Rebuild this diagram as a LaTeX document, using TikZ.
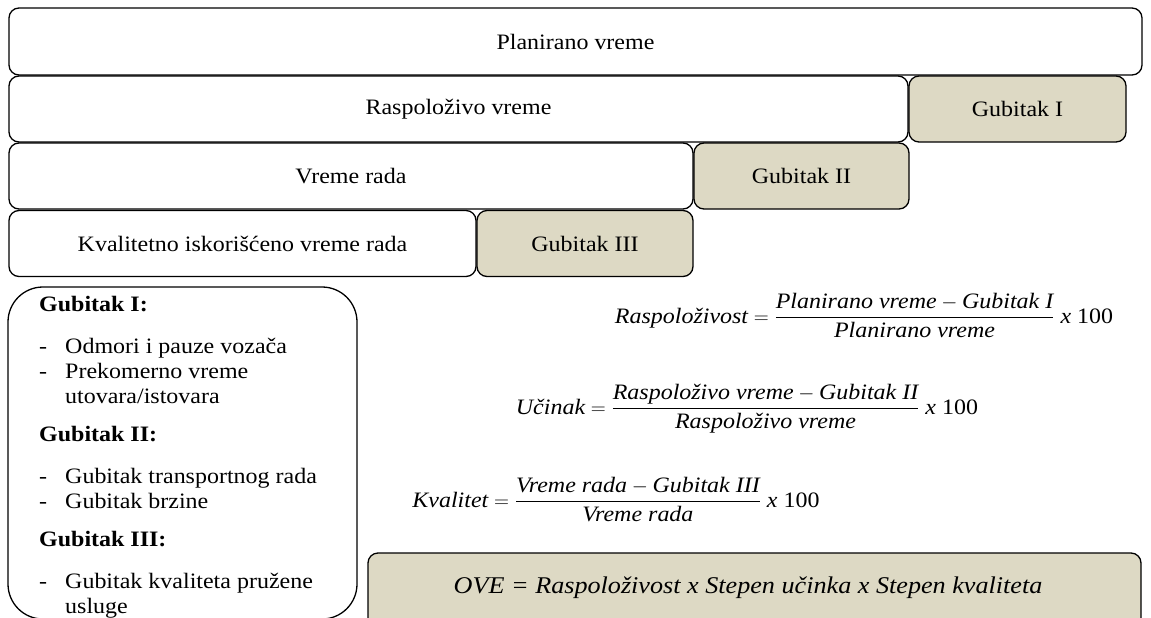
\documentclass[tikz,border=0pt]{standalone}
\usepackage{fontspec}
\usepackage{amsmath}
\setmainfont[FakeStretch=1.09]{Liberation Serif}
\definecolor{losstan}{HTML}{DDD9C4}

\tikzset{
  txt/.style={font=\fontsize{22}{26}\selectfont},
  box/.style={txt, draw=black, line width=1.3pt, rounded corners=10pt,
    minimum height=66pt, inner sep=0pt},
  lossbox/.style={box, fill=losstan},
  item/.style={txt, anchor=base west, inner sep=0pt},
  head/.style={item, font=\bfseries\fontsize{22}{26}\selectfont},
  formula/.style={txt, anchor=base, inner sep=0pt},
}

\begin{document}
\begin{tikzpicture}[x=1pt, y=-1pt]
\useasboundingbox (0,0) rectangle (1151,618);

% time breakdown bars
\node[box, minimum width=1133pt, minimum height=67pt] (plan) at (575.5,41.5) {Planirano vreme};
\node[box, minimum width=899pt] (avail) at (458.5,109) {Raspoloživo vreme};
\node[lossbox, minimum width=217pt] (g1) at (1017.5,109) {Gubitak I};
\node[box, minimum width=684pt] (work) at (351,176) {Vreme rada};
\node[lossbox, minimum width=215pt] (g2) at (801.5,176) {Gubitak II};
\node[box, minimum width=467pt] (qual) at (242.5,243.5) {Kvalitetno iskorišćeno vreme rada};
\node[lossbox, minimum width=216pt] (g3) at (585,243.5) {Gubitak III};

% list of losses
\node[draw=black, line width=1.3pt, rounded corners=35pt, minimum width=349pt,
  minimum height=332pt, inner sep=0pt] (losses) at (182.5,453) {};

\node[head] (h1) at (39,311) {Gubitak I:};
\node[item] (d1) at (39,353) {-};
\node[item] (i1) at (65,353) {Odmori i pauze vozača};
\node[item] (d2) at (39,378) {-};
\node[item] (i2) at (65,378) {Prekomerno vreme};
\node[item] (i2b) at (65,403) {utovara/istovara};

\node[head] (h2) at (39,441) {Gubitak II:};
\node[item] (d3) at (39,483) {-};
\node[item] (i3) at (65,483) {Gubitak transportnog rada};
\node[item] (d4) at (39,508) {-};
\node[item] (i4) at (65,508) {Gubitak brzine};

\node[head] (h3) at (39,546) {Gubitak III:};
\node[item] (d5) at (39,588) {-};
\node[item] (i5) at (65,588) {Gubitak kvaliteta pružene};
\node[item] (i5b) at (65,613) {usluge};

% formulas
\node[formula] (f1) at (864,323) {$\displaystyle \text{\itshape Raspoloživost} =
  \frac{\text{\itshape Planirano vreme} - \text{\itshape Gubitak I}}{\text{\itshape Planirano vreme}}
  \ \text{\itshape x}\ \text{100}$};
\node[formula] (f2) at (747,414) {$\displaystyle \text{\itshape Učinak} =
  \frac{\text{\itshape Raspoloživo vreme} - \text{\itshape Gubitak II}}{\text{\itshape Raspoloživo vreme}}
  \ \text{\itshape x}\ \text{100}$};
\node[formula] (f3) at (616,507) {$\displaystyle \text{\itshape Kvalitet} =
  \frac{\text{\itshape Vreme rada} - \text{\itshape Gubitak III}}{\text{\itshape Vreme rada}}
  \ \text{\itshape x}\ \text{100}$};

% overall result
\node[lossbox, minimum width=773pt, minimum height=80pt] (ove) at (754.5,593) {};
\node[font=\itshape\fontsize{24}{28}\selectfont, inner sep=0pt] (ovetext) at (748,588)
  {OVE = Raspoloživost x Stepen učinka x Stepen kvaliteta};
\end{tikzpicture}
\end{document}
